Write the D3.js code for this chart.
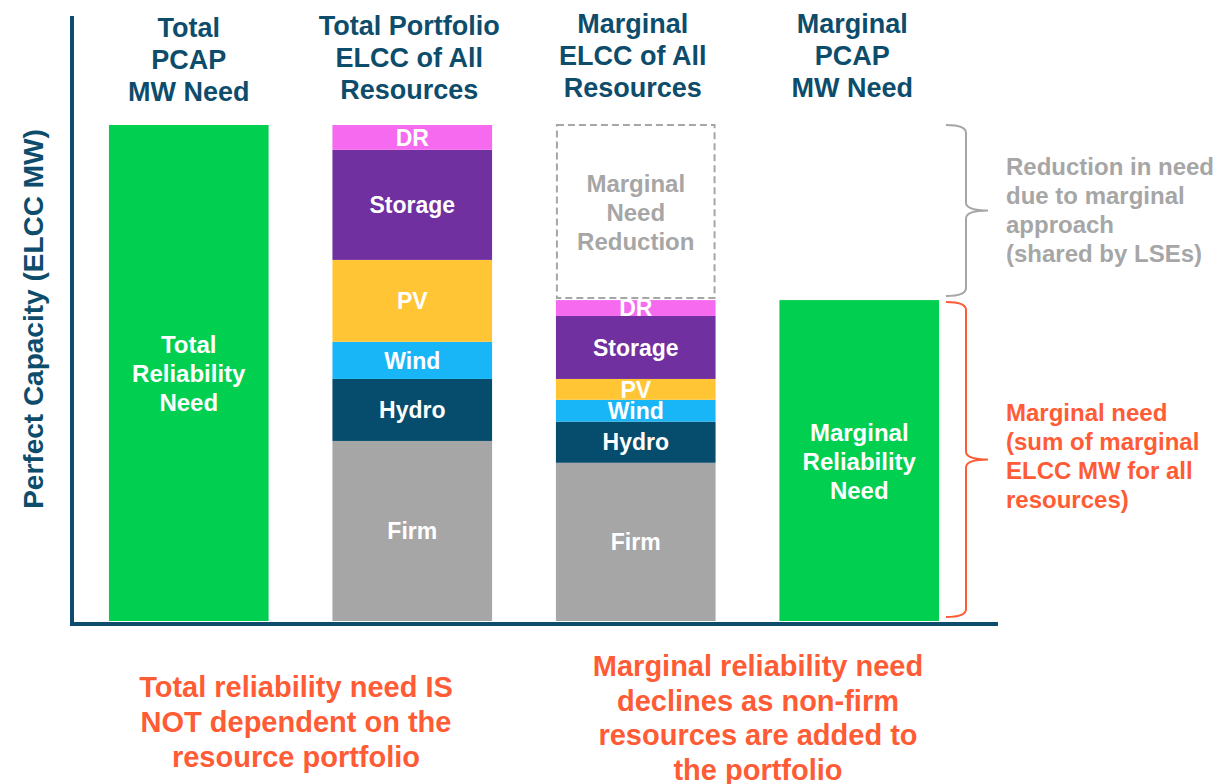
<!DOCTYPE html>
<html lang="en">
<head>
  <meta charset="UTF-8">
  <title>Total vs Marginal Reliability Need</title>
  <style>
    body { margin: 0; background: #fff; }
    svg { display: block; font-family: "Liberation Sans", Arial, sans-serif; font-weight: bold; }
  </style>
</head>
<body>
  <svg></svg>
<script src="https://d3js.org/d3.v7.min.js"></script>
<script>

  // columns
  let categories = ['totalNeed', 'totalElcc', 'marginalElcc', 'marginalNeed'];
  let titles = [
    ['Total', 'PCAP', 'MW Need'],
    ['Total Portfolio', 'ELCC of All', 'Resources'],
    ['Marginal', 'ELCC of All', 'Resources'],
    ['Marginal', 'PCAP', 'MW Need']
  ];

  // stacked resources, bottom to top (share of total need, %)
  let resources = ['Firm', 'Hydro', 'Wind', 'PV', 'Storage', 'DR'];
  let resourceColors = ['#a6a6a6', '#064c6c', '#19b6f7', '#ffc535', '#7030a0', '#f56aee'];
  let portfolioElcc = [36.3, 12.5, 7.5, 16.5, 22.2, 5.0];
  let marginalElcc = [31.9, 8.3, 4.4, 4.2, 12.7, 3.2];
  let totalNeed = 100;

  let width = 1216,
    height = 784;

  let navy = '#0d4c6b',
    green = '#00cf50',
    grey = '#a6a6a6',
    orange = '#ff5b35';

  let svg = d3.select('svg')
    .attr('width', width)
    .attr('height', height);

  let x = d3.scaleBand()
    .domain(categories)
    .range([77, 971])
    .paddingInner(0.2857)
    .paddingOuter(0.1429);

  let y = d3.scaleLinear()
    .domain([0, totalNeed])
    .range([621, 125]);

  let marginalNeed = d3.sum(marginalElcc);

  // stacks
  function stack(values) {
    let acc = 0;
    return values.map((v, i) => {
      let s = { name: resources[i], color: resourceColors[i], y0: acc, y1: acc + v };
      acc += v;
      return s;
    });
  }

  // green need bars
  let needBars = [
    { key: 'totalNeed', value: totalNeed, label: ['Total', 'Reliability', 'Need'] },
    { key: 'marginalNeed', value: marginalNeed, label: ['Marginal', 'Reliability', 'Need'] }
  ];

  needBars.forEach(b => {
    svg.append('rect')
      .attr('x', x(b.key))
      .attr('y', y(b.value))
      .attr('width', x.bandwidth())
      .attr('height', y(0) - y(b.value))
      .attr('fill', green);

    let cy = (y(b.value) + y(0)) / 2;
    svg.append('text')
      .attr('x', x(b.key) + x.bandwidth() / 2)
      .attr('y', cy - 29 + 9)
      .attr('text-anchor', 'middle')
      .attr('fill', '#fff')
      .attr('font-size', 24)
      .selectAll('tspan')
      .data(b.label)
      .join('tspan')
      .attr('x', x(b.key) + x.bandwidth() / 2)
      .attr('dy', (d, i) => i ? 29 : 0)
      .text(d => d);
  });

  // stacked resource bars
  [['totalElcc', portfolioElcc], ['marginalElcc', marginalElcc]].forEach(([key, vals]) => {
    let g = svg.append('g');
    let segs = stack(vals);

    g.selectAll('rect')
      .data(segs)
      .join('rect')
      .attr('x', x(key))
      .attr('y', d => y(d.y1))
      .attr('width', x.bandwidth())
      .attr('height', d => y(d.y0) - y(d.y1))
      .attr('fill', d => d.color);

    g.selectAll('text')
      .data(segs)
      .join('text')
      .attr('x', x(key) + x.bandwidth() / 2)
      .attr('y', d => (y(d.y0) + y(d.y1)) / 2)
      .attr('dy', '0.36em')
      .attr('text-anchor', 'middle')
      .attr('fill', '#fff')
      .attr('font-size', 23)
      .text(d => d.name);
  });

  // dashed box for marginal reduction
  svg.append('rect')
    .attr('x', x('marginalElcc') + 1)
    .attr('y', y(totalNeed))
    .attr('width', x.bandwidth() - 2)
    .attr('height', y(marginalNeed) - y(totalNeed) - 2)
    .attr('fill', 'none')
    .attr('stroke', grey)
    .attr('stroke-width', 2)
    .attr('stroke-dasharray', '7,4');

  svg.append('text')
    .attr('x', x('marginalElcc') + x.bandwidth() / 2)
    .attr('y', 192)
    .attr('text-anchor', 'middle')
    .attr('fill', grey)
    .attr('font-size', 24)
    .selectAll('tspan')
    .data(['Marginal', 'Need', 'Reduction'])
    .join('tspan')
    .attr('x', x('marginalElcc') + x.bandwidth() / 2)
    .attr('dy', (d, i) => i ? 29 : 0)
    .text(d => d);

  // axes
  svg.append('line')
    .attr('x1', 72).attr('x2', 72)
    .attr('y1', 16).attr('y2', 625)
    .attr('stroke', navy)
    .attr('stroke-width', 4);

  svg.append('line')
    .attr('x1', 70).attr('x2', 998)
    .attr('y1', 624).attr('y2', 624)
    .attr('stroke', navy)
    .attr('stroke-width', 4);

  svg.append('text')
    .attr('transform', 'translate(43,319) rotate(-90)')
    .attr('text-anchor', 'middle')
    .attr('fill', navy)
    .attr('font-size', 28)
    .text('Perfect Capacity (ELCC MW)');

  // column titles
  let titleTop = [37, 35, 33, 33];
  let titleShift = [0, -3, -3, -7];
  categories.forEach((c, i) => {
    svg.append('text')
      .attr('y', titleTop[i])
      .attr('text-anchor', 'middle')
      .attr('fill', navy)
      .attr('font-size', 27)
      .selectAll('tspan')
      .data(titles[i])
      .join('tspan')
      .attr('x', x(c) + x.bandwidth() / 2 + titleShift[i])
      .attr('dy', (d, j) => j ? 32 : 0)
      .text(d => d);
  });

  // braces
  function brace(top, bottom, color) {
    let x0 = 946, xl = 966, xt = 988;
    let mid = (top + bottom) / 2;
    let r = 8;
    let p = `M${x0},${top} Q${xl},${top} ${xl},${top + r} L${xl},${mid - r} Q${xl},${mid} ${xt},${mid}` +
      ` Q${xl},${mid} ${xl},${mid + r} L${xl},${bottom - r} Q${xl},${bottom} ${x0},${bottom}`;
    svg.append('path')
      .attr('d', p)
      .attr('fill', 'none')
      .attr('stroke', color)
      .attr('stroke-width', 2);
  }

  brace(y(totalNeed), y(marginalNeed) - 4, grey);
  brace(y(marginalNeed) + 2, y(0) - 4, orange);

  function block(lines, x0, y0, color, size, lh, anchor) {
    svg.append('text')
      .attr('y', y0)
      .attr('text-anchor', anchor)
      .attr('fill', color)
      .attr('font-size', size)
      .selectAll('tspan')
      .data(lines)
      .join('tspan')
      .attr('x', x0)
      .attr('dy', (d, i) => i ? lh : 0)
      .text(d => d);
  }

  block(['Reduction in need', 'due to marginal', 'approach', '(shared by LSEs)'], 1006, 175, grey, 24, 29, 'start');
  block(['Marginal need', '(sum of marginal', 'ELCC MW for all', 'resources)'], 1006, 421, orange, 24, 29, 'start');

  block(['Total reliability need IS', 'NOT dependent on the', 'resource portfolio'], 296, 697, orange, 29, 35, 'middle');
  block(['Marginal reliability need', 'declines as non-firm', 'resources are added to', 'the portfolio'], 758, 676, orange, 29, 34.5, 'middle');

</script>
</body>
</html>
